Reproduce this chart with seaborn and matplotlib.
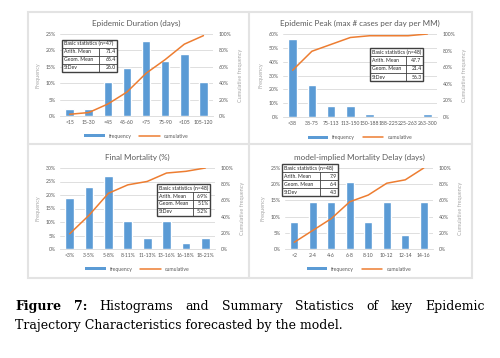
import numpy as np
import pandas as pd
import matplotlib
matplotlib.use("Agg")
import matplotlib.pyplot as plt
from matplotlib.patches import Rectangle, Patch
from matplotlib.lines import Line2D
import seaborn as sns

# ---- data (percent of runs per bin) ----
dur_bins = ["<15", "15-30", "<45", "45-60", "<75", "75-90", "<105", "105-120"]
dur_freq = [2.1, 2.1, 10.4, 14.6, 22.9, 16.7, 18.8, 10.4]
dur_stats = ["(n=47)", "71.4", "65.4", "26.0"]

peak_bins = ["<38", "38-75", "75-113", "113-150", "150-188", "188-225", "225-263", "263-300"]
peak_freq = [56.3, 22.9, 8.3, 8.3, 2.1, 0.0, 0.0, 2.1]
peak_stats = ["(n=48)", "47.7", "21.4", "56.3"]

mort_bins = ["<3%", "3-5%", "5-8%", "8-11%", "11-13%", "13-16%", "16-18%", "18-21%"]
mort_freq = [18.8, 22.9, 27.1, 10.4, 4.2, 10.4, 2.1, 4.2]
mort_stats = ["(n=48)", "6.9%", "5.1%", "5.2%"]

delay_bins = ["<2", "2-4", "4-6", "6-8", "8-10", "10-12", "12-14", "14-16"]
delay_freq = [8.3, 14.6, 14.6, 20.8, 8.3, 14.6, 4.2, 14.6]
delay_stats = ["(n=48)", "7.9", "6.4", "4.3"]

stat_labels = ["Arith. Mean", "Geom. Mean", "StDev"]

sns.set_theme(style="white")
plt.rcParams['font.family'] = ['Lato', 'DejaVu Sans']

BLUE = "#5B9BD5"
ORANGE = "#ED7D31"
GREY = "#595959"
LIGHT = "#D9D9D9"
SERIF = ['DejaVu Serif']

W, H = 500, 358
fig = plt.figure(figsize=(5, 3.58), dpi=100)
fig.patch.set_facecolor("white")


def px_axes(x0, y0, x1, y1):
    return fig.add_axes([x0 / W, 1 - y1 / H, (x1 - x0) / W, (y1 - y0) / H])


def stats_table(ax, box, stats):
    x0, y0, w, h = box
    rh = h / 4
    c1 = x0 + w * 0.68
    kw = dict(transform=ax.transAxes, clip_on=False, zorder=10)
    ax.add_patch(Rectangle((x0, y0), w, h, facecolor="white", edgecolor="#404040", lw=1.0, **kw))
    for i in range(1, 4):
        ax.add_line(Line2D([x0, x0 + w], [y0 + h - i * rh] * 2, color="#404040", lw=0.6, **kw))
    ax.add_line(Line2D([c1, c1], [y0, y0 + h - rh], color="#404040", lw=0.6, **kw))
    tk = dict(fontsize=3.7, color="#262626", va="center", **kw)
    ax.text(x0 + 0.01, y0 + h - rh / 2, "Basic statistics " + stats[0], ha="left", **tk)
    for i, (lab, val) in enumerate(zip(stat_labels, stats[1:])):
        yc = y0 + h - (i + 1.5) * rh
        ax.text(x0 + 0.01, yc, lab, ha="left", **tk)
        ax.text(x0 + w - 0.01, yc, val, ha="right", **tk)


def panel(rect, title, bins, freq, ymax, ystep, stats, tbox):
    ax = px_axes(*rect)
    df = pd.DataFrame({"bin": bins, "freq": freq})
    df["cum"] = df["freq"].cumsum().clip(upper=100)
    df["pos"] = np.arange(len(df))

    sns.barplot(data=df, x="bin", y="freq", color=BLUE, saturation=1, width=0.45, ax=ax, zorder=3)
    ax.set_ylim(0, ymax)
    ax.set_xlim(-0.5, len(bins) - 0.5)
    yt = np.arange(0, ymax + 0.01, ystep)
    ax.set_yticks(yt)
    ax.set_yticklabels([f"{v:.0f}%" for v in yt])
    ax.yaxis.grid(True, color=LIGHT, lw=0.6)
    ax.set_axisbelow(True)
    for s in ["top", "left", "right"]:
        ax.spines[s].set_visible(False)
    ax.spines["bottom"].set_color(LIGHT)
    ax.spines["bottom"].set_linewidth(0.6)
    ax.tick_params(axis="both", labelsize=3.7, colors=GREY, length=0, pad=3)
    ax.set_xlabel("")
    ax.set_ylabel("Frequency", fontsize=4, color="#A6A6A6", labelpad=4)
    ax.set_title(title, fontsize=5.8, color=GREY, pad=6)

    ax2 = ax.twinx()
    sns.lineplot(data=df, x="pos", y="cum", color=ORANGE, lw=1.1, ax=ax2, zorder=4)
    ax2.set_ylim(0, 100)
    ax2.set_yticks(np.arange(0, 101, 20))
    ax2.set_yticklabels([f"{v}%" for v in range(0, 101, 20)])
    ax2.tick_params(axis="y", labelsize=3.7, colors=GREY, length=0, pad=4)
    ax2.set_ylabel("Cumulative frequency", fontsize=4, color="#A6A6A6", labelpad=5)
    ax2.set_xlabel("")
    for s in ax2.spines.values():
        s.set_visible(False)

    stats_table(ax2, tbox, stats)

    handles = [Patch(facecolor=BLUE, edgecolor="none"), Line2D([], [], color=ORANGE, lw=1.1)]
    leg = ax.legend(handles, ["frequency", "cumulative"], loc="upper center",
                    bbox_to_anchor=(0.5, -0.16), ncol=2, frameon=False, fontsize=3.7,
                    handlelength=4, handleheight=0.5, columnspacing=1.5)
    for t in leg.get_texts():
        t.set_color(GREY)
    return ax


# panel frames
fig.patches.append(Rectangle((28 / W, 1 - 278 / H), 444 / W, 266 / H, transform=fig.transFigure,
                             facecolor="none", edgecolor="#E3E3E3", lw=1.5))
fig.lines.append(Line2D([249 / W] * 2, [1 - 278 / H, 1 - 12 / H], transform=fig.transFigure,
                        color="#E3E3E3", lw=1.5))
fig.lines.append(Line2D([28 / W, 472 / W], [1 - 144 / H] * 2, transform=fig.transFigure,
                        color="#E3E3E3", lw=1.5))

panel((60, 34, 213, 116), "Epidemic Duration (days)", dur_bins, dur_freq, 25, 5,
      dur_stats, (0.013, 0.54, 0.36, 0.39))
panel((283, 34, 437, 117), "Epidemic Peak (max # cases per day per MM)", peak_bins, peak_freq, 60, 10,
      peak_stats, (0.565, 0.43, 0.345, 0.40))
panel((60, 168, 215, 249), "Final Mortality (%)", mort_bins, mort_freq, 30, 5,
      mort_stats, (0.626, 0.41, 0.342, 0.39))
panel((285, 168, 433, 249), "model-implied Mortality Delay (days)", delay_bins, delay_freq, 25, 5,
      delay_stats, (-0.02, 0.65, 0.38, 0.40))

# caption: size the second line to its width in the reference, justify the first
renderer = fig.canvas.get_renderer()
line2 = "Trajectory Characteristics forecasted by the model."
probe = fig.text(0, 0, line2, fontsize=10, family=SERIF)
cap_size = 10 * 328 / probe.get_window_extent(renderer).width
probe.remove()


def justified_line(words, y, x0, x1, size, bold_n):
    texts = []
    for i, w in enumerate(words):
        texts.append(fig.text(0, 1 - y / H, w, fontsize=size, family=SERIF, color="black",
                              weight="bold" if i < bold_n else "normal", va="baseline"))
    widths = [t.get_window_extent(renderer).width for t in texts]
    gap = ((x1 - x0) - sum(widths)) / (len(words) - 1)
    x = x0
    for t, w in zip(texts, widths):
        t.set_x(x / W)
        x += w + gap


justified_line(["Figure", "7:", "Histograms", "and", "Summary", "Statistics", "of", "key", "Epidemic"],
               310, 15, 485, cap_size, 2)
fig.text(15 / W, 1 - 329 / H, line2, fontsize=cap_size, family=SERIF, color="black", va="baseline")

fig.savefig("out.png", dpi=100, facecolor="white")
